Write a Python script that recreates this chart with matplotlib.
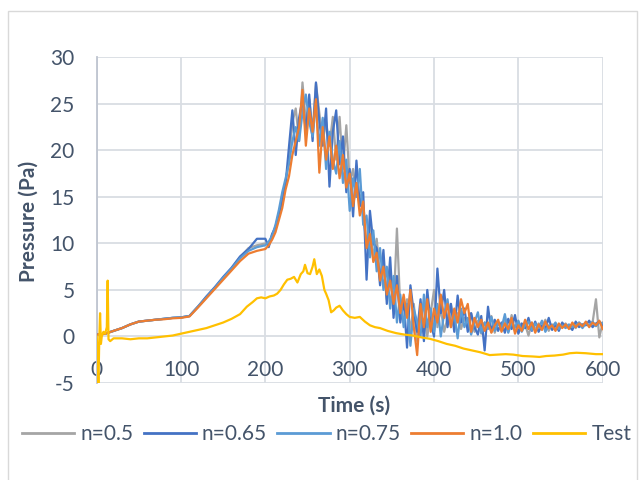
import numpy as np
import matplotlib
matplotlib.use("Agg")
import matplotlib.pyplot as plt
from matplotlib.patches import Rectangle
from matplotlib.lines import Line2D

plt.rcParams['font.family'] = ['Lato', 'DejaVu Sans']
plt.rcParams['axes.unicode_minus'] = False

# ---- simulation sampling grid (s) ----
t_early = np.arange(0, 200, 10)
t_late = np.arange(200, 601, 4)
t_sim = np.concatenate([t_early, t_late])

# ---- simulated pressure (Pa) ----
p_n050 = [
    0.2, 0.3, 0.6, 0.9, 1.3, 1.6, 1.7, 1.8, 1.9, 2.0,
    2.05, 2.2, 3.2, 4.2, 5.2, 6.3, 7.3, 8.5, 9.5, 9.8,
    10.0, 9.8, 11.0, 11.5, 13.0, 15.0, 16.5, 19.0, 23.0, 24.5,
    21.0, 27.3, 23.0, 25.5, 22.0, 27.2, 24.0, 21.0, 23.0, 20.5,
    23.6, 19.0, 23.6, 18.0, 22.7, 16.5, 18.0, 15.0, 15.2, 13.0,
    10.0, 12.0, 8.5, 10.5, 6.5, 8.0, 4.0, 7.0, 3.0, 11.6,
    3.0, 1.5, 4.0, 0.5, 3.5, -0.5, 2.0, 3.5, 0.0, 2.5,
    5.0, 1.0, 3.0, 0.5, 2.0, 3.5, 1.0, 2.5, 0.8, 2.0,
    1.0, 2.5, 0.5, 1.7, 0.3, 1.5, 0.9, 2.2, 0.4, 1.6,
    0.8, 1.8, 0.5, 2.3, 0.6, 1.6, 0.9, 1.3, 0.1, 1.5,
    0.7, 1.4, 1.0, 1.8, 0.6, 1.3, 0.9, 1.2, 1.0, 1.4,
    1.0, 1.3, 0.9, 1.5, 1.2, 1.4, 1.1, 1.5, 4.0, -0.1,
    1.5,
]

p_n065 = [
    0.2, 0.3, 0.6, 0.9, 1.3, 1.6, 1.7, 1.8, 1.9, 2.0,
    2.05, 2.2, 3.2, 4.3, 5.3, 6.4, 7.4, 8.6, 9.4, 10.5,
    10.5, 9.6, 11.0, 11.8, 13.2, 14.5, 16.4, 20.4, 24.3, 19.5,
    23.5, 25.5, 22.0, 26.0, 21.0, 27.3, 23.0, 20.5, 24.5, 16.1,
    22.0, 24.3, 18.5, 21.5, 15.5, 18.0, 12.9, 18.9, 14.0, 15.5,
    6.1, 13.5, 10.0, 9.5, 5.5, 9.3, 3.5, 8.5, 2.0, 6.5,
    1.5, 4.0, -1.2, 5.5, 2.5, 0.5, 4.0, -0.5, 5.0, 1.5,
    0.0, 7.3, 2.5, 5.0, 1.0, 3.5, 0.5, 4.4, 1.5, 3.0,
    0.5, 2.5, 1.0, 0.2, 2.2, -1.5, 3.2, 0.5, 1.8, 0.6,
    1.5, 0.4, 1.9, 0.8, 2.3, 0.3, 1.4, 0.9, 2.0, 0.6,
    1.6, 0.5, 1.2, 0.8, 2.0, 0.7, 1.3, 0.6, 1.5, 1.0,
    1.1, 0.7, 1.6, 1.0, 1.3, 1.2, 1.7, 1.0, 1.4, 1.6,
    1.2,
]

p_n075 = [
    0.2, 0.3, 0.6, 0.9, 1.3, 1.6, 1.7, 1.8, 1.9, 2.0,
    2.05, 2.2, 3.2, 4.2, 5.2, 6.3, 7.3, 8.4, 9.2, 9.6,
    9.8, 10.2, 10.8, 12.0, 13.6, 15.5, 17.0, 18.5, 21.0, 22.5,
    21.0, 24.0, 26.0, 23.0, 21.5, 25.0, 20.5, 23.5, 18.0, 22.0,
    19.0, 17.5, 21.0, 16.5, 19.0, 13.5, 17.0, 15.0, 18.0, 12.0,
    13.0, 8.5, 11.4, 7.0, 9.5, 5.0, 7.5, 3.0, 6.5, 1.5,
    4.5, 1.0, 3.5, -1.0, 3.0, 1.5, 0.0, 4.5, 1.0, 3.0,
    0.5, 3.5, 0.0, 2.5, 4.0, 1.0, 2.5, -0.2, 3.0, 1.0,
    2.0, 0.2, 1.5, 2.6, 0.4, 1.5, 0.8, 2.1, 0.6, 1.4,
    0.9, 2.4, 0.4, 1.5, 1.0, 1.7, 0.5, 1.2, 1.6, 0.7,
    1.4, 0.9, 1.7, 0.5, 1.2, 1.0, 1.5, 0.8, 1.2, 0.9,
    1.3, 1.0, 1.2, 1.5, 0.9, 1.4, 1.2, 1.6, 1.1, 1.5,
    1.4,
]

p_n100 = [
    0.2, 0.3, 0.6, 0.9, 1.3, 1.6, 1.7, 1.8, 1.85, 1.95,
    2.0, 2.15, 3.1, 4.1, 5.1, 6.1, 7.1, 8.1, 8.9, 9.2,
    9.4, 9.8, 10.4, 11.2, 12.5, 13.8, 15.8, 17.2, 19.5, 21.0,
    22.5, 26.5, 20.5, 24.5, 22.0, 25.5, 17.6, 22.5, 19.0, 21.5,
    18.0, 20.5, 17.0, 19.5, 16.0, 17.5, 14.0, 16.5, 13.0, 14.5,
    9.5, 11.0, 8.0, 9.0, 6.0, 7.5, 4.5, 6.0, 3.5, 5.5,
    2.5, 4.5, 2.0, 5.0, 1.0, -2.0, 3.5, 1.0, 4.0, 0.5,
    3.0, 1.5, 4.5, 2.0, 3.5, 1.0, 3.0, 1.5, 4.0, 2.5,
    3.5, 0.5, 2.0, 1.0, 1.8, 0.6, 1.5, 0.4, 1.2, 1.8,
    0.5, 1.4, 0.8, 2.0, 0.3, 1.2, 0.6, 1.8, 0.8, 1.5,
    0.4, 1.3, 0.7, 1.6, 0.9, 1.2, 0.6, 1.4, 0.9, 1.3,
    0.8, 1.5, 1.0, 1.4, 1.1, 1.6, 1.0, 1.5, 1.2, 1.7,
    0.8,
]

# ---- measured pressure (Pa) ----
t_test = [
    0, 1, 2, 3, 4, 5, 6, 8, 10, 12,
    13, 14, 16, 20, 30, 40, 50, 60, 70, 80,
    90, 100, 110, 120, 130, 140, 150, 160, 170, 178,
    185, 190, 195, 200, 205, 210, 214, 218, 222, 226,
    230, 234, 238, 242, 245, 247, 250, 253, 256, 258,
    261, 264, 267, 270, 272, 275, 278, 281, 284, 288,
    292, 296, 300, 306, 312, 318, 324, 330, 336, 345,
    355, 365, 375, 385, 395, 405, 415, 425, 435, 445,
    455, 466, 475, 485, 494, 505, 517, 525, 533, 543,
    553, 561, 569, 580, 592, 600,
]
p_test = [
    0.0, -2.0, -5.5, -0.5, 2.5, -0.8, 0.0, 0.5, 0.3, 1.0,
    6.0, -0.3, -0.5, -0.2, -0.2, -0.3, -0.2, -0.2, -0.1, 0.0,
    0.1, 0.3, 0.5, 0.7, 0.9, 1.2, 1.5, 1.9, 2.4, 3.2,
    3.7, 4.1, 4.2, 4.1, 4.3, 4.4, 4.6, 5.0, 5.6, 6.1,
    6.2, 6.4, 5.8, 6.7, 7.0, 7.7, 6.8, 6.7, 7.5, 8.3,
    6.7, 7.2, 6.5, 5.0, 4.6, 3.9, 2.6, 2.8, 3.1, 3.3,
    2.8, 2.4, 2.1, 2.0, 2.1, 1.6, 1.2, 1.0, 0.9, 0.6,
    0.36, 0.2, 0.1, -0.1, -0.25, -0.5, -0.8, -1.0, -1.3, -1.5,
    -1.7, -2.0, -1.95, -1.9, -1.95, -2.1, -2.15, -2.2, -2.1, -2.05,
    -1.95, -1.8, -1.75, -1.8, -1.9, -1.9,
]

series = [
    ("n=0.5", p_n050, "#A5A5A5"),
    ("n=0.65", p_n065, "#4472C4"),
    ("n=0.75", p_n075, "#5B9BD5"),
    ("n=1.0", p_n100, "#ED7D31"),
]
test_color = "#FFC000"

x_ticks = [0, 100, 200, 300, 400, 500, 600]
y_ticks = [-5, 0, 5, 10, 15, 20, 25, 30]

text_color = "#44546A"
grid_color = "#D9DDE3"

W, H = 643, 480
fig = plt.figure(figsize=(W / 100, H / 100), dpi=100)
fig.patch.set_facecolor("white")

# chart frame
fig.patches.append(Rectangle((8 / W, -0.02), (637 - 8) / W, (480 - 11) / H + 0.02,
                             transform=fig.transFigure, fill=False,
                             edgecolor="#D9D9D9", linewidth=1.0))

left, right = 96.7 / W, 602.7 / W
top, bottom = 1 - 57.3 / H, 1 - 383 / H
ax = fig.add_axes([left, bottom, right - left, top - bottom])

lw = 1.6
for name, vals, col in series:
    ax.plot(t_sim, vals, color=col, lw=lw, label=name, solid_joinstyle="round", zorder=3)
ax.plot(t_test, p_test, color=test_color, lw=lw, label="Test", zorder=4)

ax.set_xlim(0, 600)
ax.set_ylim(-5, 30)
ax.set_xticks(x_ticks)
ax.set_yticks(y_ticks)
ax.grid(True, color=grid_color, lw=1.3, zorder=0)
ax.set_axisbelow(True)

for s in ["top", "right", "bottom"]:
    ax.spines[s].set_visible(False)
ax.spines["left"].set_color("#BFC5D0")
ax.spines["left"].set_linewidth(1.3)

ax.tick_params(axis="both", length=0, labelsize=15, labelcolor=text_color)
ax.tick_params(axis="y", pad=16)
# horizontal axis labels sit just under the zero line
ax.spines["bottom"].set_position(("data", 0))
ax.tick_params(axis="x", pad=17)

fig.text(354 / W, 1 - 406 / H, "Time (s)", ha="center", va="center",
         fontsize=15, fontweight="bold", color=text_color)
fig.text(29 / W, 1 - 221 / H, "Pressure (Pa)", ha="center", va="center",
         rotation=90, fontsize=15, fontweight="bold", color=text_color)

handles = [Line2D([0], [0], color=c, lw=2.0) for _, _, c in series]
handles.append(Line2D([0], [0], color=test_color, lw=2.0))
labels = [n for n, _, _ in series] + ["Test"]
leg = fig.legend(handles, labels, loc="center", bbox_to_anchor=(0.508, 1 - 434 / H),
                 ncol=5, frameon=False, fontsize=15, handlelength=2.5,
                 handletextpad=0.3, columnspacing=0.5, borderaxespad=0)
for txt in leg.get_texts():
    txt.set_color(text_color)

fig.savefig("out.png", dpi=100, facecolor="white")
